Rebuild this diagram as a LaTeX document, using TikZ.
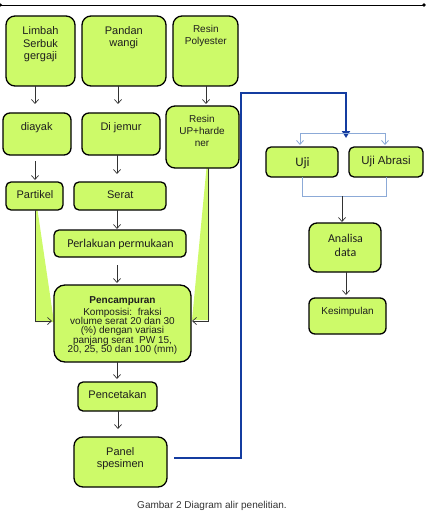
\documentclass[tikz,border=0pt]{standalone}
\usepackage{fontspec}
\setmainfont{Liberation Sans}
\newfontfamily\calfont{Carlito}
\usetikzlibrary{arrows.meta}
\definecolor{boxgreen}{RGB}{205,250,105}
\definecolor{txt}{RGB}{30,30,30}
\definecolor{darkblue}{RGB}{20,60,160}
\definecolor{lightblue}{RGB}{140,170,215}
\definecolor{arrowgray}{RGB}{50,50,50}
\newcommand\mytightfont{\fontsize{10}{9.3}\selectfont\setlength{\lineskiplimit}{-5pt}\setlength{\lineskip}{0pt}}
\begin{document}
\begin{tikzpicture}[x=1pt,y=-1pt,
  box/.style={draw=black, line width=1.3pt, fill=boxgreen, rounded corners=#1, inner sep=0pt, outer sep=0pt},
  box/.default=8pt,
  lbl/.style={text=txt, inner sep=0pt, align=center},
  arr/.style={draw=arrowgray, line width=0.7pt, -{Straight Barb[length=4pt,width=7pt]}},
  bluearr/.style={draw=darkblue, line width=2.6pt, -{Triangle[length=7pt,width=8pt]}},
  lb/.style={draw=lightblue, line width=0.8pt},
  lbarr/.style={lb, -{Straight Barb[length=4pt,width=7pt]}},
  wedge/.style={fill=boxgreen, draw=none},
  f11/.style={font=\fontsize{11}{12.7}\selectfont},
  f10/.style={font=\fontsize{10}{11.6}\selectfont},
]
\useasboundingbox (0,0) rectangle (429,516);

% top rule
\coordinate (r1) at (0.5,5);
\coordinate (r2) at (424,5);
\draw[line width=0.6pt] (r1) -- (r2);
\fill (r1) circle (1.7pt);
\fill (r2) circle (1.8pt);

% wedges
\fill[wedge] (35,210) -- (37.5,210) -- (54,322) -- (35,322) -- cycle;
\fill[wedge] (209,168) -- (206.5,168) -- (192,320) -- (209,320) -- cycle;

% boxes
\node[box=9pt, minimum width=69pt, minimum height=70pt] (limbah) at (40.5,51) {};
\node[box=9pt, minimum width=84pt, minimum height=70pt] (pandan) at (124,51) {};
\node[box=9pt, minimum width=65pt, minimum height=70pt] (resinP) at (205.5,51) {};
\node[box=7pt, minimum width=68pt, minimum height=42pt] (diayak) at (37,134) {};
\node[box=7pt, minimum width=78pt, minimum height=42pt] (dijemur) at (121,134) {};
\node[box=9pt, minimum width=73pt, minimum height=62pt] (resinUP) at (202.5,137) {};
\node[box=5pt, minimum width=57pt, minimum height=28pt] (partikel) at (34.5,196) {};
\node[box=5pt, minimum width=92pt, minimum height=28pt] (serat) at (120,196) {};
\node[box=5pt, minimum width=132pt, minimum height=27pt] (perlakuan) at (120,243.5) {};
\node[box=11pt, minimum width=137pt, minimum height=77pt] (pencampuran) at (122.5,323.5) {};
\node[box=5pt, minimum width=79pt, minimum height=29pt] (pencetakan) at (117.5,396.5) {};
\node[box=9pt, minimum width=93pt, minimum height=50pt] (panel) at (120.5,462) {};
\node[box=5pt, minimum width=72pt, minimum height=30pt] (uji) at (302,162) {};
\node[box=5pt, minimum width=74pt, minimum height=30pt] (abrasi) at (386,162) {};
\node[box=8pt, minimum width=72pt, minimum height=49pt] (analisa) at (345,247.5) {};
\node[box=6pt, minimum width=77pt, minimum height=36pt] (kesimpulan) at (347.5,316) {};

% texts
\node[lbl, f11, anchor=north] (limbahT) at (40.5,26.2) {Limbah\\Serbuk\\gergaji};
\node[lbl, f11, anchor=north] (pandanT) at (123.8,26) {Pandan\\wangi};
\node[lbl, f10, anchor=north] (resinPT) at (205.8,25.4) {Resin\\Polyester};
\node[lbl, f11, anchor=base] (diayakT) at (36.7,130) {diayak};
\node[lbl, f11, anchor=base] (dijemurT) at (121,130) {Di jemur};
\node[lbl, f10, anchor=north] (resinUPT) at (202,115.4) {Resin\\UP+harde\\ner};
\node[lbl, f11, anchor=base] (partikelT) at (35,198) {Partikel};
\node[lbl, f11, anchor=base] (seratT) at (120.3,198) {Serat};
\node[lbl, font=\calfont\fontsize{12}{14}\selectfont, anchor=base] (perlakuanT) at (120.5,247) {Perlakuan permukaan};
\node[lbl, font=\mytightfont, anchor=north] (pencampuranT) at (122.5,296.4)
  {\textbf{Pencampuran}\\[2.6pt]Komposisi:~~fraksi\\volume serat 20 dan 30\\(\%) dengan variasi\\panjang serat~~PW 15,\\20, 25, 50 dan 100 (mm)};
\node[lbl, f11, anchor=base] (pencetakanT) at (117.5,398) {Pencetakan};
\node[lbl, f11, anchor=north] (panelT) at (120.3,447) {Panel\\spesimen};
\node[lbl, font=\calfont\fontsize{13}{15}\selectfont, anchor=base] (ujiT) at (302.5,166) {Uji};
\node[lbl, font=\fontsize{11.5}{13}\selectfont, anchor=base] (abrasiT) at (386,164) {Uji Abrasi};
\node[lbl, font=\calfont\fontsize{12}{14}\selectfont, anchor=north] (analisaT) at (345.5,234) {Analisa\\data};
\node[lbl, f10, anchor=base] (kesimpulanT) at (347.5,314.6) {Kesimpulan};
\node[lbl, text=black!80, f10, anchor=base] (caption) at (212,508.6) {Gambar 2 Diagram alir penelitian.};

% connectors, left part
\draw[arr] ([xshift=-5.5pt]limbah.south) -- ++(0,18);
\draw[arr] ([xshift=-6pt]pandan.south) -- ++(0,18);
\draw[arr] ([xshift=0.5pt]resinP.south) -- ++(0,18);
\draw[arr] ([shift={(-2pt,-6pt)}]diayak.south) -- ++(0,19);
\draw[arr] ([xshift=-4pt]dijemur.south) -- ++(0,19);
\draw[arr] ([xshift=-3pt]serat.south) -- ++(0,19);
\draw[arr] ([shift={(-3pt,-8pt)}]perlakuan.south) -- ++(0,18);
\draw[arr] ([xshift=0.5pt]partikel.south) |- ([shift={(-2pt,2.5pt)}]pencampuran.west);
\draw[arr] ([xshift=6pt]resinUP.south) |- ([shift={(1pt,2.5pt)}]pencampuran.east);
\draw[arr] ([xshift=-5.5pt]pencampuran.south) -- ++(0,17);
\draw[arr] ([xshift=0.5pt]pencetakan.south) -- ++(0,18);

% blue link
\draw[bluearr] ([shift={(7pt,4pt)}]panel.east) -| (241,93) -| (346,138);

% right part
\coordinate (s1) at (300,133);
\coordinate (s2) at (385,133);
\draw[lb] (s1) -- (s2);
\draw[lbarr, shorten >=2pt] (s1) -- (s1 |- uji.north);
\draw[lbarr, shorten >=2pt] (s2) -- (s2 |- abrasi.north);
\draw[lb] (uji.south) -- ++(0,19) -| (abrasi.south);
\coordinate (m) at (342,196);
\draw[arr, shorten >=1pt] (m) -- (m |- analisa.north);
\draw[arr] ([xshift=1pt]analisa.south) -- ++(0,23);
\end{tikzpicture}
\end{document}
